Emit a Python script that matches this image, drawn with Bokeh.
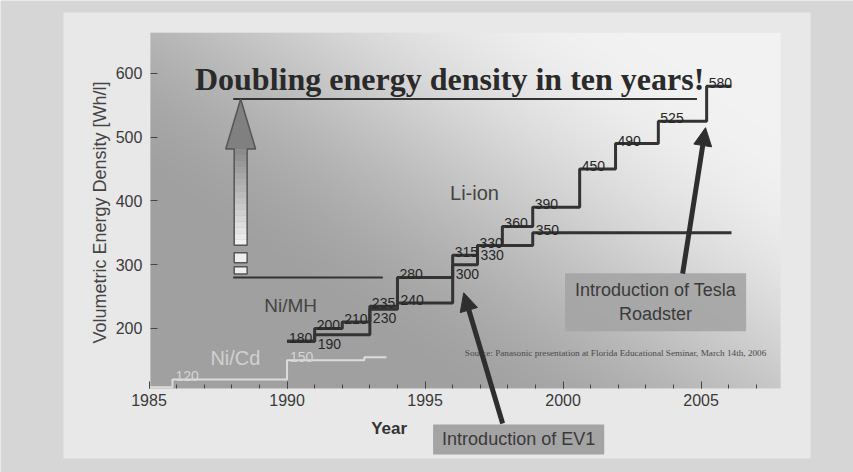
import numpy as np
from bokeh.plotting import figure
from bokeh.models import Range1d, Label, Arrow, NormalHead, FixedTicker
from bokeh.core.properties import value
from bokeh.embed import file_html
from bokeh.resources import INLINE

# ---------------- data ----------------
upper_years = [1990, 1991, 1992, 1993, 1994, 1996, 1996.9, 1997.8, 1998.9, 2000.6, 2001.9, 2003.45, 2005.2]
upper_values = [180, 200, 210, 235, 280, 315, 330, 360, 390, 450, 490, 525, 580]
lower_years = [1990, 1991, 1993, 1994, 1996, 1996.9, 1998.9]
lower_values = [180, 190, 230, 240, 300, 330, 350]
lower_label_side = ["none", "below", "below", "above", "below", "below", "above"]
series_end_year = 2006.1

nicd_years = [1985, 1985.85, 1990, 1992.8]
nicd_values = [108, 120, 150, 155]
nicd_labels = ["", "120", "150", ""]
nicd_end_year = 1993.6

doubling_base = 280
doubling_top = 560
doubling_start = 1988.05
doubling_base_end = 1993.47
doubling_top_end = 2004.85
arrow_year = 1988.32

x_ticks = [1985, 1990, 1995, 2000, 2005]
y_ticks = [200, 300, 400, 500, 600]

title_text = "Doubling energy density in ten years!"
source_text = "Source: Panasonic presentation at Florida Educational Seminar, March 14th, 2006"

ev1_text = "Introduction of EV1"
ev1_box = (1998.39, 26)                 # call-out centre (year, Wh/l)
ev1_arrow = (1997.81, 51, 1996.40, 256)
tesla_text = "Introduction of Tesla\nRoadster"
tesla_box = (2003.35, 241)
tesla_arrow = (2004.33, 286, 2005.16, 515)

# visible chart window and whole-canvas extents (data units)
X0, X1 = 1985.05, 2007.88
Y0, Y1 = 106, 664
CX0, CX1 = 1979.62, 2010.52
CY0, CY1 = -25.9, 714.5

SANS = value("Liberation Sans")
SERIF = value("Liberation Serif")
INK = "#333333"
NUM = "#262626"

p = figure(width=853, height=472, output_backend="svg", toolbar_location=None,
           x_range=Range1d(CX0, CX1), y_range=Range1d(CY0, CY1),
           min_border_left=0, min_border_right=0, min_border_top=0, min_border_bottom=0)
p.background_fill_color = "#d6d6d6"
p.border_fill_color = "#d6d6d6"
p.outline_line_color = None
p.grid.visible = False

# ---------- slide panel + gradient backdrop (decoration) ----------
p.quad(left=[1979.62 + 63 / 27.6], right=[1979.62 + 810 / 27.6],
       bottom=[714.5 - 458 / 0.6375], top=[714.5 - 12 / 0.6375],
       fill_color="#e8e8e8", line_color=None)
rows, cols = 178, 316
v = np.linspace(0, 1, rows)[:, None]
u = np.linspace(0, 1, cols)[None, :]
f = np.clip((0.75 * u + 0.62 * v - 0.33) / 0.85, 0, 1)
f = f * f * (3 - 2 * f)
g = (160 + 82 * f).astype(np.uint32)
img = (255 << 24) | (g << 16) | (g << 8) | g
p.image_rgba(image=[img.astype(np.uint32)], x=X0, y=Y0, dw=X1 - X0, dh=Y1 - Y0)

# ---------- axes (pinned to the chart window) ----------
p.xaxis.fixed_location = Y0
p.yaxis.fixed_location = X0
p.xaxis.ticker = FixedTicker(ticks=x_ticks, minor_ticks=list(range(1985, 2008)))
p.yaxis.ticker = FixedTicker(ticks=y_ticks)
for ax in (p.xaxis, p.yaxis):
    ax.axis_line_color = None
    ax.major_tick_line_color = "#444444"
    ax.minor_tick_line_color = "#444444"
    ax.major_label_text_font = "Liberation Sans"
    ax.major_label_text_font_size = "16px"
    ax.major_label_text_color = "#3a3a3a"
    ax.major_tick_out = 0
    ax.major_tick_in = 7
    ax.minor_tick_out = 0
p.xaxis.minor_tick_in = 4
p.yaxis.minor_tick_line_color = None
p.xaxis.major_label_standoff = 6
p.yaxis.major_label_standoff = 8

p.add_layout(Label(x=1983.24, y=382, text="Volumetric Energy Density [Wh/l]", angle=np.pi / 2,
                   text_align="center", text_baseline="middle", text_font="Liberation Sans",
                   text_font_size="18px", text_color="#444444"))
p.add_layout(Label(x=1993.70, y=43, text="Year", text_align="center", text_baseline="middle",
                   text_font="Liberation Sans", text_font_style="bold", text_font_size="17px",
                   text_color=INK))

# ---------- Ni/Cd (faint) ----------
p.step(nicd_years + [nicd_end_year], nicd_values + [nicd_values[-1]], mode="after",
       line_color="#dcdcdc", line_width=2)
p.text(nicd_years, nicd_values, text=nicd_labels, x_offset=3, y_offset=-3,
       text_baseline="alphabetic", text_font=SANS, text_font_size="14px", text_color="#d4d4d4")
p.text([1988.13], [153], text=["Ni/Cd"], text_align="center", text_baseline="middle",
       text_font=SANS, text_font_size="20px", text_color="#d0d0d0")

# ---------- doubling reference ----------
p.segment([doubling_start, doubling_start], [doubling_base, doubling_top],
          [doubling_base_end, doubling_top_end], [doubling_base, doubling_top],
          line_color=INK, line_width=2)
span = doubling_top - doubling_base
head_base = doubling_top - 0.28 * span
shaft_bottom = doubling_base + 0.18 * span
head_hw, shaft_hw = 0.54, 0.235
n = 16
edges = np.linspace(shaft_bottom, head_base, n + 1)
shades = np.linspace(242, 140, n).astype(int)
p.quad(left=arrow_year - shaft_hw, right=arrow_year + shaft_hw, bottom=edges[:-1], top=edges[1:],
       fill_color=["#%02x%02x%02x" % (s, s, s) for s in shades], line_color=None)
p.patch([arrow_year - head_hw, arrow_year, arrow_year + head_hw],
        [head_base, doubling_top, head_base], fill_color="#808080", line_color=None)
p.patch([arrow_year - shaft_hw, arrow_year - shaft_hw, arrow_year - head_hw, arrow_year,
         arrow_year + head_hw, arrow_year + shaft_hw, arrow_year + shaft_hw],
        [shaft_bottom, head_base, head_base, doubling_top, head_base, head_base, shaft_bottom],
        fill_color=None, line_color="#555555", line_width=1.5)
p.quad(left=arrow_year - shaft_hw, right=arrow_year + shaft_hw,
       bottom=[doubling_base + 0.02 * span, doubling_base + 0.082 * span],
       top=[doubling_base + 0.06 * span, doubling_base + 0.139 * span],
       fill_color="#eeeeee", line_color="#555555", line_width=1.5)

p.add_layout(Label(x=1995.89, y=591, text=title_text, text_align="center", text_baseline="alphabetic",
                   text_font="Liberation Serif", text_font_style="bold", text_font_size="32px",
                   text_color="#2a2a2a"))

# ---------- Ni/MH + Li-ion steps ----------
p.step(upper_years + [series_end_year], upper_values + [upper_values[-1]], mode="after",
       line_color=INK, line_width=3)
p.step(lower_years + [series_end_year], lower_values + [lower_values[-1]], mode="after",
       line_color=INK, line_width=3)

p.text(upper_years, upper_values, text=[str(vv) for vv in upper_values], x_offset=2, y_offset=-3,
       text_baseline="alphabetic", text_font=SANS, text_font_size="14px", text_color=NUM)
ab = [i for i, s in enumerate(lower_label_side) if s == "above"]
be = [i for i, s in enumerate(lower_label_side) if s == "below"]
p.text([lower_years[i] for i in ab], [lower_values[i] for i in ab],
       text=[str(lower_values[i]) for i in ab], x_offset=3, y_offset=-3,
       text_baseline="alphabetic", text_font=SANS, text_font_size="14px", text_color=NUM)
p.text([lower_years[i] for i in be], [lower_values[i] for i in be],
       text=[str(lower_values[i]) for i in be], x_offset=3, y_offset=4,
       text_baseline="top", text_font=SANS, text_font_size="14px", text_color=NUM)

p.text([1990.13], [236], text=["Ni/MH"], text_align="center", text_baseline="middle",
       text_font=SANS, text_font_size="19px", text_color="#444444")
p.text([1996.79], [413], text=["Li-ion"], text_align="center", text_baseline="middle",
       text_font=SANS, text_font_size="20px", text_color="#444444")

p.text([2001.9], [162], text=[source_text], text_align="center", text_baseline="middle",
       text_font=SERIF, text_font_size="9.2px", text_color="#4a4a4a")

# ---------- call-outs ----------
p.add_layout(Label(x=tesla_box[0], y=tesla_box[1], text=tesla_text, text_align="center",
                   text_baseline="middle", text_font="Liberation Sans", text_font_size="18px",
                   text_color="#3a3a3a", background_fill_color="#a4a4a4", background_fill_alpha=0.9,
                   padding=(10, 7)))
p.add_layout(Label(x=ev1_box[0], y=ev1_box[1], text=ev1_text, text_align="center",
                   text_baseline="middle", text_font="Liberation Sans", text_font_size="18px",
                   text_color="#3a3a3a", background_fill_color="#a4a4a4", padding=(9, 5)))
for (xs, ys, xe, ye) in (ev1_arrow, tesla_arrow):
    p.add_layout(Arrow(x_start=xs, y_start=ys, x_end=xe, y_end=ye, line_color="#2e2e2e", line_width=5,
                       end=NormalHead(size=18, fill_color="#2e2e2e", line_color="#2e2e2e")))

open("out.html", "w").write(file_html(p, INLINE))
